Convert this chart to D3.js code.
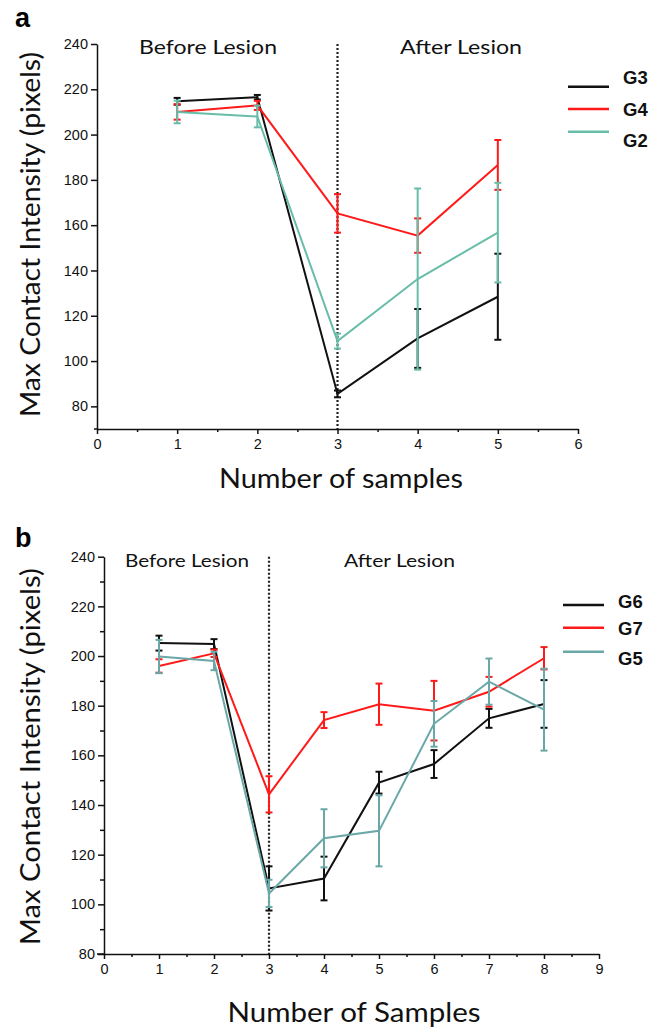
<!DOCTYPE html>
<html>
<head>
<meta charset="utf-8">
<script src="https://cdn.jsdelivr.net/npm/d3@7"></script>
<style>
  body { margin: 0; background: #fff; }
  svg { display: block; }
  .axis path, .axis line { stroke: #111; stroke-width: 1.5; }
</style>
</head>
<body>
<div class="chart"></div>
<script>
// panel a values
const samplesA = [1, 2, 3, 4, 5];
const g3Mean = [214.7, 216.5, 85.5, 110, 128.4];
const g3Err = [1.5, 1, 1.5, 13, 19];
const g4Mean = [210, 212.9, 165.2, 155.4, 186.6];
const g4Err = [3.4, 2, 8.5, 7.6, 11];
const g2Mean = [210, 208, 108.8, 136.2, 156.7];
const g2Err = [5, 4.8, 3.3, 40, 22];

// panel b values
const samplesB = [1, 2, 3, 4, 5, 6, 7, 8];
const g6Mean = [205.2, 204.8, 106.4, 110.4, 149, 156.5, 174.9, 180.7];
const g6Err = [3, 2, 8.9, 8.8, 4.4, 5.6, 3.8, 9.6];
const g7Mean = [196, 201.1, 144.3, 174.2, 180.6, 178, 185.6, 199.1];
const g7Err = [2.7, 1.5, 7.3, 3.2, 8.3, 12, 6, 4.5];
const g5Mean = [199.8, 198, 104.4, 126.6, 129.6, 172.7, 189.7, 178.4];
const g5Err = [6.7, 3.7, 5.5, 11.7, 14.3, 9.2, 9.3, 16.5];

const yTicksA = [80, 100, 120, 140, 160, 180, 200, 220, 240];
const yTicksB = [80, 100, 120, 140, 160, 180, 200, 220, 240];
const xTicksA = [0, 1, 2, 3, 4, 5, 6];
const xTicksB = [0, 1, 2, 3, 4, 5, 6, 7, 8, 9];

const BLACK = "#111111";
const RED = "#ff1a1a";
const TEAL_A = "#68bda9";
const TEAL_B = "#6aa8a7";
const TITLE_FONT = "Lato, 'Open Sans', sans-serif";
const BOLD_FONT = "'Liberation Sans', Arial, sans-serif";

const svg = d3.select(".chart")
  .append("svg")
  .attr("width", 664)
  .attr("height", 1028);

function styleLabels(a) {
  a.selectAll("text")
    .attr("font-family", BOLD_FONT)
    .attr("font-size", 14.5)
    .attr("fill", "#111");
}

function drawPanel(p) {
  const g = svg.append("g");
  const x = d3.scaleLinear().domain(p.xDomain).range(p.xRange);
  const y = d3.scaleLinear().domain(p.yDomain).range(p.yRange);

  // y axis
  g.append("g")
    .attr("class", "axis")
    .attr("transform", `translate(${p.xRange[0]},0)`)
    .call(d3.axisLeft(y).tickValues(p.yTicks).tickFormat(d3.format("d"))
      .tickSize(6).tickSizeOuter(0).tickPadding(3))
    .call(styleLabels);
  if (p.yMinor) {
    g.append("g")
      .attr("class", "axis")
      .attr("transform", `translate(${p.xRange[0]},0)`)
      .call(d3.axisLeft(y).tickValues(p.yMinor).tickSize(4).tickFormat(""))
      .call(a => a.select(".domain").remove());
  }

  // x axis
  g.append("g")
    .attr("class", "axis")
    .attr("transform", `translate(0,${p.yRange[0]})`)
    .call(d3.axisBottom(x).tickValues(p.xTicks).tickFormat(d3.format("d"))
      .tickSize(5).tickSizeOuter(0).tickPadding(5))
    .call(styleLabels);
  g.append("g")
    .attr("class", "axis")
    .attr("transform", `translate(0,${p.yRange[0]})`)
    .call(d3.axisBottom(x).tickValues(p.xTicks.slice(0, -1).map(d => d + 0.5)).tickSize(3).tickFormat(""))
    .call(a => a.select(".domain").remove());
  // x axis line runs a bit past the y axis on the left
  g.append("line")
    .attr("x1", p.xRange[0] - p.xExtend).attr("x2", p.xRange[0])
    .attr("y1", p.yRange[0]).attr("y2", p.yRange[0])
    .attr("stroke", "#111").attr("stroke-width", 1.5);

  // lesion divider
  g.append("line")
    .attr("x1", x(3)).attr("x2", x(3))
    .attr("y1", y(p.yDomain[1])).attr("y2", p.yRange[0])
    .attr("stroke", "#222")
    .attr("stroke-width", 2.2)
    .attr("stroke-dasharray", "2,2");

  const line = d3.line().x(d => x(d.x)).y(d => y(d.m));

  p.series.forEach(s => {
    const pts = p.samples.map((v, i) => ({ x: v, m: s.mean[i], e: s.err[i] }));
    const sg = g.append("g");
    sg.append("path")
      .datum(pts)
      .attr("d", line)
      .attr("fill", "none")
      .attr("stroke", s.color)
      .attr("stroke-width", 2);
    const bars = sg.selectAll(".err").data(pts).join("g").attr("class", "err")
      .attr("stroke", s.color).attr("stroke-width", 2);
    bars.append("line")
      .attr("x1", d => x(d.x)).attr("x2", d => x(d.x))
      .attr("y1", d => y(d.m - d.e)).attr("y2", d => y(d.m + d.e));
    bars.append("line")
      .attr("x1", d => x(d.x) - 3.5).attr("x2", d => x(d.x) + 3.5)
      .attr("y1", d => y(d.m + d.e)).attr("y2", d => y(d.m + d.e));
    bars.append("line")
      .attr("x1", d => x(d.x) - 3.5).attr("x2", d => x(d.x) + 3.5)
      .attr("y1", d => y(d.m - d.e)).attr("y2", d => y(d.m - d.e));
  });

  // legend
  p.series.forEach((s, i) => {
    g.append("line")
      .attr("x1", p.legend.x).attr("x2", p.legend.x + 41)
      .attr("y1", p.legend.lineY[i]).attr("y2", p.legend.lineY[i])
      .attr("stroke", s.color).attr("stroke-width", 2.5);
    g.append("text")
      .attr("x", p.legend.x + p.legend.textDx)
      .attr("y", p.legend.textY[i])
      .attr("font-family", BOLD_FONT)
      .attr("font-weight", "bold")
      .attr("font-size", 18.5)
      .attr("fill", "#111")
      .text(s.name);
  });

  // region captions
  p.captions.forEach(c => {
    g.append("text")
      .attr("x", c.x).attr("y", c.y)
      .attr("font-family", TITLE_FONT)
      .attr("font-size", c.size)
      .attr("textLength", c.len)
      .attr("lengthAdjust", "spacingAndGlyphs")
      .attr("fill", "#111")
      .text(c.text);
  });

  // axis titles
  g.append("text")
    .attr("transform", `translate(40,${p.yTitle.cy}) rotate(-90)`)
    .attr("text-anchor", "middle")
    .attr("font-family", TITLE_FONT)
    .attr("font-size", 26)
    .attr("textLength", p.yTitle.len)
    .attr("lengthAdjust", "spacingAndGlyphs")
    .attr("fill", "#111")
    .text("Max Contact Intensity (pixels)");
  g.append("text")
    .attr("x", p.xTitle.cx).attr("y", p.xTitle.y)
    .attr("text-anchor", "middle")
    .attr("font-family", TITLE_FONT)
    .attr("font-size", 27)
    .attr("textLength", p.xTitle.len)
    .attr("lengthAdjust", "spacingAndGlyphs")
    .attr("fill", "#111")
    .text(p.xTitle.text);

  // panel letter
  g.append("text")
    .attr("x", 15).attr("y", p.letterY)
    .attr("font-family", BOLD_FONT)
    .attr("font-weight", "bold")
    .attr("font-size", 27)
    .attr("fill", "#000")
    .text(p.letter);
}

drawPanel({
  letter: "a",
  letterY: 27,
  samples: samplesA,
  xDomain: [0, 6], xRange: [97, 578], xTicks: xTicksA, xExtend: 3,
  yDomain: [70, 240], yRange: [429, 44], yTicks: yTicksA, yMinor: null,
  series: [
    { name: "G3", color: BLACK, mean: g3Mean, err: g3Err },
    { name: "G4", color: RED, mean: g4Mean, err: g4Err },
    { name: "G2", color: TEAL_A, mean: g2Mean, err: g2Err },
  ],
  legend: { x: 568, textDx: 55, lineY: [86.7, 109, 131.7], textY: [83.5, 115.5, 147] },
  captions: [
    { text: "Before Lesion", x: 139, y: 53.5, size: 20, len: 138 },
    { text: "After Lesion", x: 400, y: 53.5, size: 20, len: 122 },
  ],
  yTitle: { cy: 234.5, len: 365 },
  xTitle: { text: "Number of samples", cx: 341, y: 488, len: 244 },
});

drawPanel({
  letter: "b",
  letterY: 547,
  samples: samplesB,
  xDomain: [0, 9], xRange: [104, 599], xTicks: xTicksB, xExtend: 7,
  yDomain: [80, 240], yRange: [954, 556.7], yTicks: yTicksB,
  yMinor: [90, 110, 130, 150, 170, 190, 210, 230],
  series: [
    { name: "G6", color: BLACK, mean: g6Mean, err: g6Err },
    { name: "G7", color: RED, mean: g7Mean, err: g7Err },
    { name: "G5", color: TEAL_B, mean: g5Mean, err: g5Err },
  ],
  legend: { x: 563, textDx: 55, lineY: [605, 627.7, 651.7], textY: [608, 634.5, 664.5] },
  captions: [
    { text: "Before Lesion", x: 125, y: 567.3, size: 18, len: 124 },
    { text: "After Lesion", x: 344, y: 567.3, size: 18, len: 111 },
  ],
  yTitle: { cy: 756.7, len: 377 },
  xTitle: { text: "Number of Samples", cx: 354, y: 1021.7, len: 253 },
});
</script>
</body>
</html>
